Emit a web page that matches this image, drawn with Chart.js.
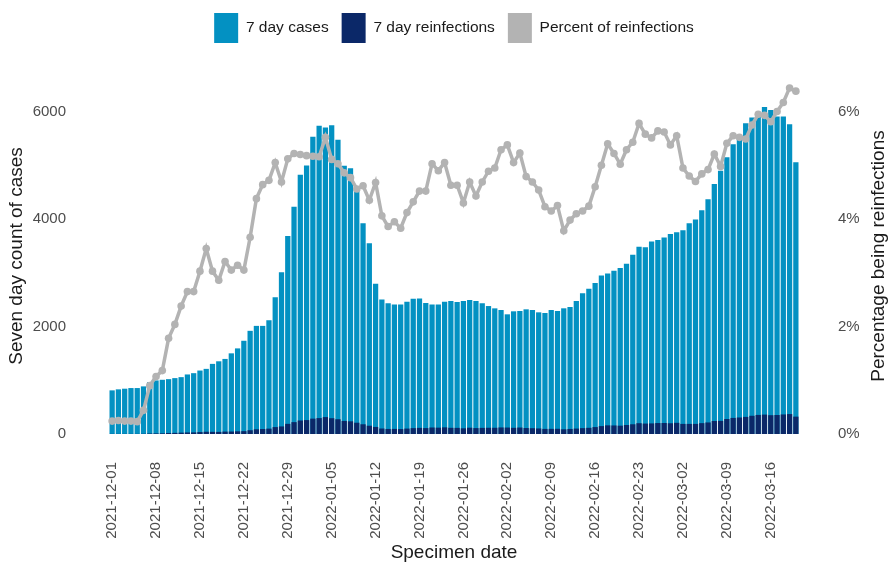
<!DOCTYPE html>
<html>
<head>
<meta charset="utf-8">
<title>Reinfections</title>
<script src="https://cdn.jsdelivr.net/npm/chart.js@4.4.1/dist/chart.umd.min.js"></script>
<style>
  html, body { margin: 0; padding: 0; background: #fff; }
  #wrap { width: 888px; height: 567px; position: relative; }
</style>
</head>
<body>
<div id="wrap"><canvas id="chart"></canvas></div>
<script>
// Specimen dates: one bar per day, 2021-12-01 .. 2022-03-20
var START_DATE = '2021-12-01';
var N_DAYS = 110;

// Seven day count of cases (light blue bars)
var cases7day = [
  812, 831, 843, 855, 855, 886, 966,
  997, 1009, 1021, 1040, 1058, 1108, 1132,
  1181, 1212, 1305, 1353, 1397, 1501, 1593,
  1735, 1920, 2012, 2012, 2117, 2547, 3009,
  3686, 4227, 4824, 4997, 5532, 5735, 5704,
  5747, 5477, 4990, 4947, 4600, 3920, 3550,
  2794, 2505, 2431, 2412, 2412, 2461, 2516,
  2522, 2437, 2412, 2412, 2461, 2474, 2455,
  2474, 2492, 2474, 2431, 2381, 2338, 2307,
  2227, 2283, 2289, 2320, 2307, 2264, 2252,
  2307, 2289, 2339, 2363, 2474, 2620, 2701,
  2812, 2948, 2985, 3040, 3089, 3169, 3336,
  3483, 3477, 3581, 3612, 3655, 3723, 3753,
  3790, 3920, 3993, 4166, 4370, 4650, 4900,
  5150, 5390, 5562, 5784, 5889, 5968, 6086,
  6031, 5907, 5907, 5765, 5058
];

// Seven day count of reinfections (navy bars)
var reinfections7day = [
  2, 2, 2, 2, 2, 4, 9,
  11, 12, 18, 21, 25, 29, 30,
  36, 42, 40, 39, 45, 46, 50,
  53, 70, 88, 93, 100, 129, 141,
  189, 221, 251, 259, 286, 296, 315,
  294, 275, 243, 236, 210, 181, 154,
  131, 102, 94, 95, 92, 101, 109,
  114, 110, 121, 118, 124, 115, 114,
  106, 117, 110, 114, 116, 116, 122,
  120, 115, 120, 111, 108, 103, 95,
  96, 97, 88, 94, 101, 109, 115,
  129, 147, 161, 159, 155, 168, 181,
  201, 194, 197, 204, 205, 200, 208,
  188, 188, 188, 202, 215, 242, 244,
  279, 299, 307, 318, 339, 355, 361,
  350, 354, 364, 371, 323
];

// Percent of reinfections (grey line, right axis)
var pctReinfections = [
  0.24, 0.25, 0.24, 0.24, 0.23, 0.44, 0.90,
  1.07, 1.18, 1.78, 2.04, 2.38, 2.65, 2.65,
  3.03, 3.45, 3.03, 2.86, 3.21, 3.05, 3.14,
  3.05, 3.66, 4.38, 4.64, 4.72, 5.05, 4.69,
  5.12, 5.22, 5.20, 5.18, 5.17, 5.16, 5.52,
  5.11, 5.03, 4.86, 4.77, 4.56, 4.62, 4.35,
  4.68, 4.06, 3.86, 3.95, 3.83, 4.12, 4.32,
  4.52, 4.52, 5.03, 4.90, 5.05, 4.63, 4.63,
  4.30, 4.69, 4.43, 4.69, 4.89, 4.95, 5.29,
  5.38, 5.05, 5.23, 4.79, 4.69, 4.54, 4.23,
  4.15, 4.25, 3.78, 3.98, 4.10, 4.15, 4.24,
  4.60, 5.00, 5.40, 5.22, 5.02, 5.29, 5.43,
  5.78, 5.58, 5.51, 5.64, 5.62, 5.38, 5.55,
  4.95, 4.80, 4.70, 4.84, 4.92, 5.21, 4.98,
  5.41, 5.55, 5.52, 5.49, 5.75, 5.95, 5.93,
  5.81, 6.00, 6.17, 6.44, 6.38
];

var casesTicks = [0, 2000, 4000, 6000];
var pctTicks = [0, 2, 4, 6];

var makeDates = function (start, n) {
  var out = [];
  var d = new Date(start + 'T00:00:00Z');
  for (var i = 0; i < n; i++) {
    out.push(d.toISOString().slice(0, 10));
    d.setUTCDate(d.getUTCDate() + 1);
  }
  return out;
};
var dates = makeDates(START_DATE, N_DAYS);

var FONT = '"Liberation Sans", Arial, Helvetica, sans-serif';
var TICK_GREY = '#4d4d4d';
var TEXT = '#1a1a1a';
var C_CASES = '#0391c2';
var C_REINF = '#0b2868';
var C_PCT = '#b3b3b3';

// y-axis titles are drawn by hand: both read bottom-to-top in the original
var axisTitles = {
  id: 'axisTitles',
  afterDraw: function (chart) {
    var ctx = chart.ctx;
    var midY = 256;
    ctx.save();
    ctx.font = '19px ' + FONT;
    ctx.fillStyle = TEXT;
    ctx.textAlign = 'center';
    ctx.textBaseline = 'middle';
    [[17, 'Seven day count of cases'], [879, 'Percentage being reinfections']].forEach(function (t) {
      ctx.save();
      ctx.translate(t[0], midY);
      ctx.rotate(-Math.PI / 2);
      ctx.fillText(t[1], 0, 0);
      ctx.restore();
    });
    ctx.restore();
  }
};

new Chart(document.getElementById('chart'), {
  data: {
    labels: dates,
    datasets: [
      {
        type: 'bar', label: '7 day cases', data: cases7day,
        backgroundColor: C_CASES, yAxisID: 'y', grouped: false, order: 2,
        barPercentage: 0.84, categoryPercentage: 1.0,
      },
      {
        type: 'bar', label: '7 day reinfections', data: reinfections7day,
        backgroundColor: C_REINF, yAxisID: 'y', grouped: false, order: 1,
        barPercentage: 0.84, categoryPercentage: 1.0,
      },
      {
        type: 'line', label: 'Percent of reinfections', data: pctReinfections,
        borderColor: C_PCT, backgroundColor: C_PCT, borderWidth: 3.5,
        pointRadius: 3.8, pointBackgroundColor: C_PCT, pointBorderWidth: 0,
        tension: 0, yAxisID: 'y1', order: 0,
      },
    ]
  },
  options: {
    responsive: true, maintainAspectRatio: false, animation: false,
    layout: {padding: 0},
    plugins: {
      legend: {
        position: 'top', align: 'center', fullSize: false,
        labels: {
          boxWidth: 24, boxHeight: 30, padding: 13,
          color: TEXT, font: {family: FONT, size: 15.5},
          sort: function (a, b) { return a.datasetIndex - b.datasetIndex; },
          generateLabels: function (chart) {
            return chart.data.datasets.map(function (ds, i) {
              return {
                text: ds.label, fillStyle: ds.backgroundColor,
                strokeStyle: ds.backgroundColor, lineWidth: 0,
                hidden: false, datasetIndex: i, fontColor: TEXT,
              };
            });
          },
        },
      },
      tooltip: {enabled: false},
    },
    scales: {
      x: {
        type: 'category',
        grid: {display: false, drawTicks: false},
        border: {display: false},
        ticks: {
          autoSkip: false, maxRotation: 90, minRotation: 90, padding: 28,
          color: TICK_GREY, font: {family: FONT, size: 15},
          callback: function (val, i) { return i % 7 === 0 ? dates[i] : ''; },
        },
        title: {
          display: true, text: 'Specimen date', color: TEXT,
          font: {family: FONT, size: 19}, padding: {top: 4, bottom: 3},
        },
        afterFit: function (scale) { scale.height = 133; },
      },
      y: {
        position: 'left', min: 0, max: 7090,
        grid: {display: false, drawTicks: false},
        border: {display: false},
        ticks: {
          color: TICK_GREY, font: {family: FONT, size: 15}, padding: 43,
          callback: function (v) { return String(v); },
        },
        afterBuildTicks: function (axis) {
          axis.ticks = casesTicks.map(function (v) { return {value: v}; });
        },
        afterFit: function (scale) { scale.width = 109; },
      },
      y1: {
        position: 'right', min: 0, max: 7.09,
        grid: {display: false, drawTicks: false},
        border: {display: false},
        ticks: {
          color: TICK_GREY, font: {family: FONT, size: 15}, padding: 39,
          callback: function (v) { return v + '%'; },
        },
        afterBuildTicks: function (axis) {
          axis.ticks = pctTicks.map(function (v) { return {value: v}; });
        },
        afterFit: function (scale) { scale.width = 89; },
      },
    },
  },
  plugins: [axisTitles],
});
</script>
</body>
</html>
